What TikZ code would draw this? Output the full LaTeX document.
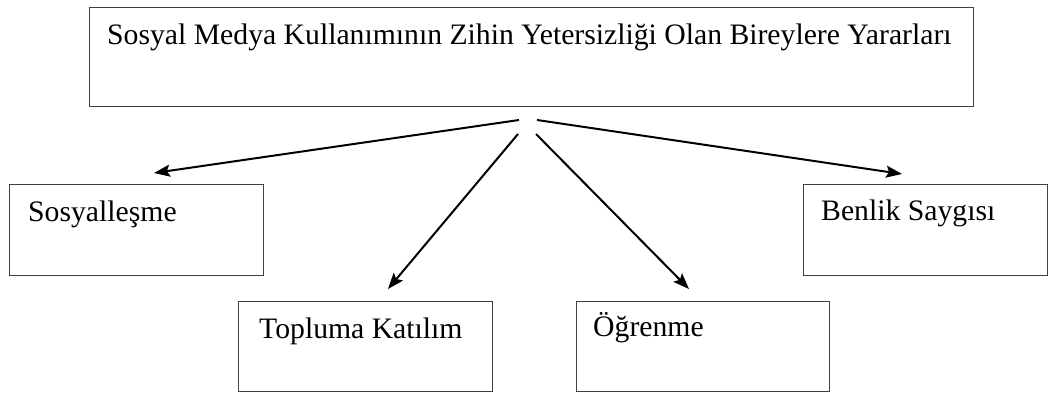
\documentclass[tikz,border=0pt]{standalone}
\usepackage{fontspec}
\setmainfont{Liberation Serif}
\usetikzlibrary{arrows.meta}
\usetikzlibrary{positioning}

\tikzset{
  kutu/.style={draw=black!75, line width=1pt, rectangle, inner sep=0pt, anchor=north west},
  yazi/.style={anchor=base west, inner sep=0pt, font=\fontsize{29.7}{35}\selectfont},
  ok/.style={line width=2pt, -{Stealth[length=16pt,width=12pt,inset=3pt]}}
}

\begin{document}
\begin{tikzpicture}[x=1pt, y=-1pt]
          \useasboundingbox (0,0) rectangle (1048,394);

          \node[kutu, minimum width=884, minimum height=99] (ana) at (89,7) {};
          \node[kutu, minimum width=254, minimum height=91] (sos) at (9,184) {};
          \node[kutu, minimum width=244, minimum height=91] (ben) at (803,184) {};
          \node[kutu, minimum width=254, minimum height=90] (top) at (238,301) {};
          \node[kutu, minimum width=253, minimum height=90] (ogr) at (576,301) {};

          \node[yazi] (anaT) at ([shift={(18,37)}]ana.north west) {Sosyal Medya Kullanımının Zihin Yetersizliği Olan Bireylere Yararları};
          \node[yazi] (sosT) at ([shift={(19,37)}]sos.north west) {Sosyalleşme};
          \node[yazi] (benT) at ([shift={(18,36)}]ben.north west) {Benlik Saygısı};
          \node[yazi] (topT) at ([shift={(21,37)}]top.north west) {Topluma Katılım};
          \node[yazi] (ogrT) at ([shift={(17,35)}]ogr.north west) {Öğrenme};

          \coordinate (s1) at (519,120);
          \coordinate (s2) at (518,134);
          \coordinate (s3) at (536,134);
          \coordinate (s4) at (537,120);
          \coordinate (e1) at (154,173);
          \coordinate (e2) at (388,289);
          \coordinate (e3) at (689,289);
          \coordinate (e4) at (902,174);

          \draw[ok] (s1) -- (e1);
          \draw[ok] (s2) -- (e2);
          \draw[ok] (s3) -- (e3);
          \draw[ok] (s4) -- (e4);
        \end{tikzpicture}
\end{document}
